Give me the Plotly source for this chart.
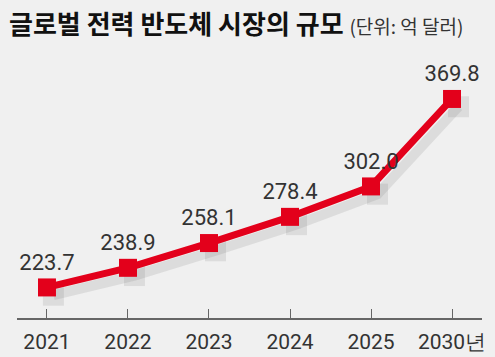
import plotly.graph_objects as go

years = ["2021", "2022", "2023", "2024", "2025", "2030년"]
values = [223.7, 238.9, 258.1, 278.4, 302.0, 369.8]
labels = ["223.7", "238.9", "258.1", "278.4", "302.0", "369.8"]

xs = list(range(len(years)))
red = "#e3001b"
num_font = "Roboto, sans-serif"

fig = go.Figure()
# drop shadow
fig.add_trace(go.Scatter(
    x=[x + 0.08 for x in xs], y=[v - 6 for v in values],
    mode="lines+markers",
    line=dict(color="rgba(120,120,120,0.16)", width=10),
    marker=dict(symbol="square", size=21, color="rgba(120,120,120,0.16)"),
    hoverinfo="skip", showlegend=False,
))
fig.add_trace(go.Scatter(
    x=xs, y=values, mode="lines+markers+text",
    line=dict(color=red, width=7),
    marker=dict(symbol="square", size=18, color=red),
    text=labels, textposition="top center",
    textfont=dict(family=num_font, size=22, color="#333333"),
    showlegend=False,
))

fig.add_annotation(
    text="<b>글로벌 전력 반도체 시장의 규모</b> <span style='font-size:19px;color:#333'>(단위: 억 달러)</span>",
    xref="paper", yref="paper", x=0, y=1, xanchor="left", yanchor="bottom",
    xshift=-10, yshift=17,
    showarrow=False,
    font=dict(family="Noto Sans CJK KR", size=26, color="#111111"),
)

fig.update_layout(
    width=495, height=357,
    margin=dict(l=17, r=13, t=60, b=39),
    paper_bgcolor="#f0f0f0", plot_bgcolor="#f0f0f0",
    xaxis=dict(
        range=[-0.37, 5.37], tickvals=xs, ticktext=years,
        showgrid=False, zeroline=False, automargin=False,
        showline=True, linecolor="#666666", linewidth=1.5,
        ticks="inside", ticklen=9, tickcolor="#666666", tickwidth=1,
        ticklabelstandoff=4,
        tickfont=dict(family=num_font, size=21, color="#333333"),
    ),
    yaxis=dict(range=[200, 400], visible=False, automargin=False),
)

fig.write_html(
    "out.html",
    config={"displayModeBar": False},
    post_script="document.body.style.margin='0';document.body.style.background='#f0f0f0';",
)
